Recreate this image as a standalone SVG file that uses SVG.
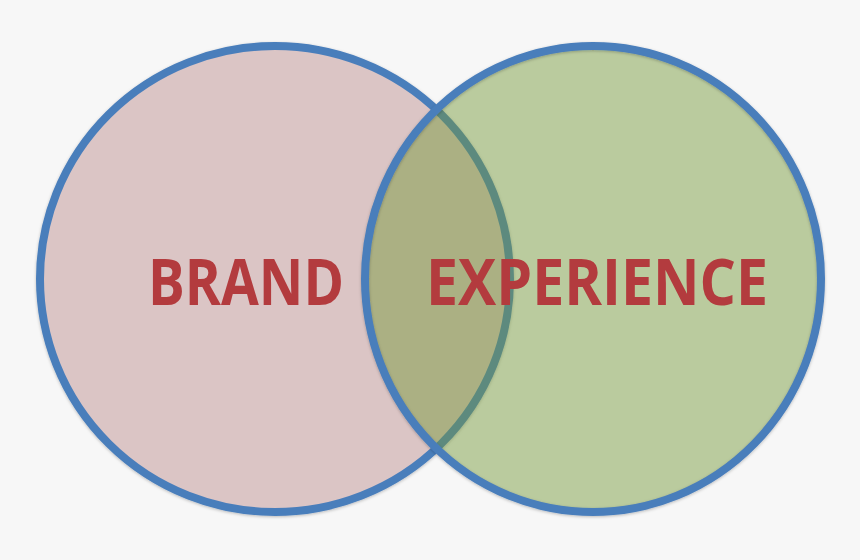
<svg xmlns="http://www.w3.org/2000/svg" width="860" height="560" viewBox="0 0 860 560">
  <defs>
    <style>
      .ring { stroke: #4a7ebb; stroke-width: 8; }
      .label { font-family: "Open Sans", "Liberation Sans", sans-serif; font-weight: 700; font-size: 64px; fill: #b33b3e; }
    </style>
    <filter id="shadow" x="-10%" y="-10%" width="120%" height="120%">
      <feDropShadow dx="0" dy="1" stdDeviation="1.5" flood-color="#000" flood-opacity="0.25"/>
    </filter>
  </defs>
  <rect x="0" y="0" width="860" height="560" fill="#f7f7f7"/>
  <g id="connectors"></g>
  <g id="brand">
    <ellipse class="ring" cx="275" cy="279" rx="235" ry="233" fill="#dbc5c5" filter="url(#shadow)"/>
    <text class="label" x="148" y="305" textLength="196" lengthAdjust="spacingAndGlyphs">BRAND</text>
  </g>
  <g id="experience">
    <ellipse cx="593" cy="279" rx="228" ry="233" fill="#759939" fill-opacity="0.47"/>
    <ellipse class="ring" cx="593" cy="279" rx="228" ry="233" fill="none" filter="url(#shadow)"/>
    <text class="label" x="426" y="305" textLength="342" lengthAdjust="spacingAndGlyphs">EXPERIENCE</text>
  </g>
</svg>
